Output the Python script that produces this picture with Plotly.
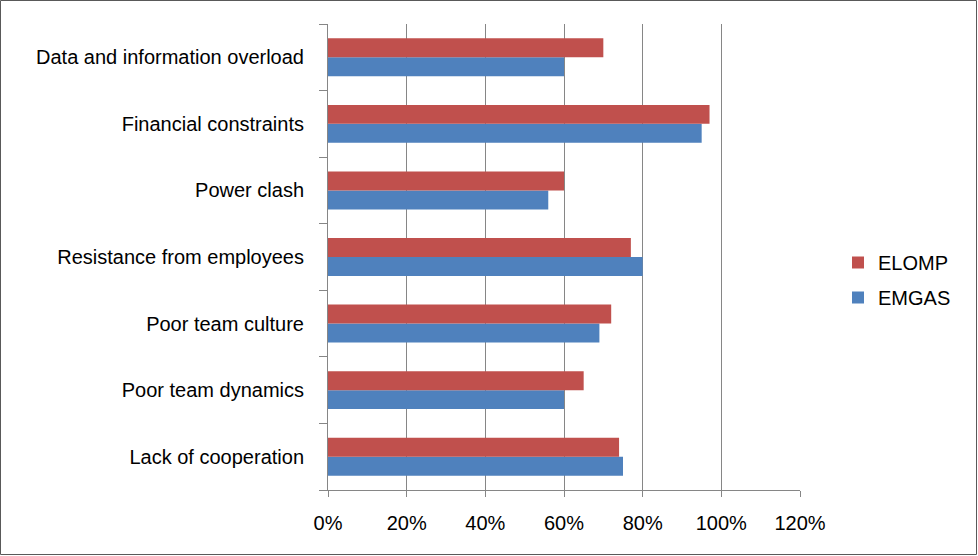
import plotly.graph_objects as go

categories = ["Lack of cooperation", "Poor team dynamics", "Poor team culture",
              "Resistance from employees", "Power clash", "Financial constraints",
              "Data and information overload"]
emgas = [0.75, 0.60, 0.69, 0.80, 0.56, 0.95, 0.60]
elomp = [0.74, 0.65, 0.72, 0.77, 0.60, 0.97, 0.70]
x_ticks = [0, 0.2, 0.4, 0.6, 0.8, 1.0, 1.2]
x_tick_labels = ["0%", "20%", "40%", "60%", "80%", "100%", "120%"]

W, H = 978, 556
L, R, T, B = 328, 178, 24, 66
pw, ph = W - L - R, H - T - B

fig = go.Figure()
fig.add_trace(go.Bar(y=categories, x=emgas, name="EMGAS", orientation="h",
                     legendgroup="b", legendrank=2,
                     marker=dict(color="#4F81BD", line=dict(width=0))))
fig.add_trace(go.Bar(y=categories, x=elomp, name="ELOMP", orientation="h",
                     legendgroup="a", legendrank=1,
                     marker=dict(color="#C0504D", line=dict(width=0))))

font = dict(family="Liberation Sans, Arial, sans-serif", size=20, color="#000000")

fig.update_layout(
    width=W, height=H,
    margin=dict(l=L, r=R, t=T, b=B, autoexpand=False),
    paper_bgcolor="white", plot_bgcolor="white",
    barmode="group", bargap=0.43, bargroupgap=0,
    font=font,
    showlegend=True,
    legend=dict(traceorder="grouped", x=(838 - L) / pw, y=(490 - 243) / ph,
                xanchor="left", yanchor="top", font=font,
                bgcolor="rgba(0,0,0,0)", itemwidth=30, tracegroupgap=6),
    xaxis=dict(range=[0, 1.2], tickvals=x_ticks, ticktext=x_tick_labels,
               showgrid=True, gridcolor="#868686", gridwidth=1,
               showline=True, linecolor="#868686", linewidth=1,
               ticks="outside", ticklen=6, tickcolor="#868686",
               zeroline=False, ticklabelstandoff=9, fixedrange=True),
    yaxis=dict(type="category", categoryorder="array", categoryarray=categories,
               showgrid=False, showline=True, linecolor="#868686", linewidth=1,
               ticks="outside", ticklen=8, tickcolor="#868686",
               tickson="boundaries", ticklabelstandoff=19, fixedrange=True),
    shapes=[dict(type="rect", xref="paper", yref="paper",
                 x0=(0.5 - L) / pw, x1=(W - 1.5 - L) / pw,
                 y0=(T + ph - (H - 1.5)) / ph, y1=(T + ph - 0.5) / ph,
                 line=dict(color="#595959", width=1), fillcolor="rgba(0,0,0,0)",
                 layer="below")],
)

fig.write_html("out.html", config={"displayModeBar": False},
               post_script="document.body.style.margin='0';document.body.style.padding='0';")
